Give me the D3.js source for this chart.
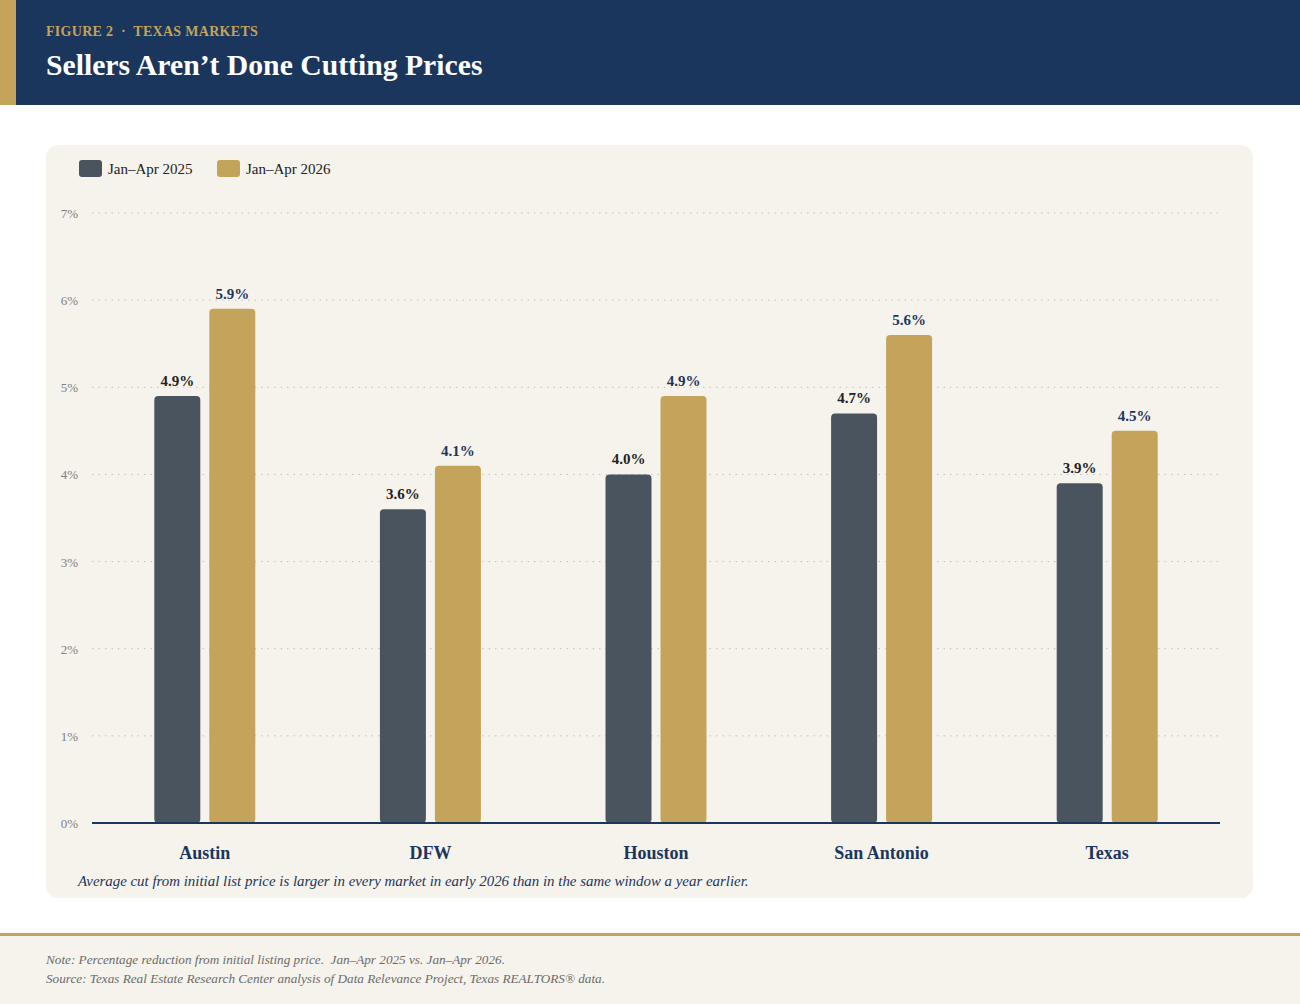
<!DOCTYPE html>
<html>
<head>
<meta charset="utf-8">
<script src="https://cdn.jsdelivr.net/npm/d3@7"></script>
<style>
  body { margin: 0; background: #ffffff; }
  svg { display: block; font-family: "Times New Roman", Times, "Liberation Serif", serif; }
</style>
</head>
<body>
<svg id="chart"></svg>
<script>
const width = 1300
const height = 1004

// data
const markets = ["Austin", "DFW", "Houston", "San Antonio", "Texas"]
const series = ["Jan\u2013Apr 2025", "Jan\u2013Apr 2026"]
const values2025 = [4.9, 3.6, 4.0, 4.7, 3.9]
const values2026 = [5.9, 4.1, 4.9, 5.6, 4.5]
const yTicks = [0, 1, 2, 3, 4, 5, 6, 7]

const navy = "#1b365d"
const gold = "#c4a35a"
const slate = "#4a545e"
const cream = "#f6f3ec"

const svg = d3.select("#chart")
  .attr("width", width)
  .attr("height", height)

// header band
svg.append("rect").attr("x", 0).attr("y", 0).attr("width", width).attr("height", 105).attr("fill", navy)
svg.append("rect").attr("x", 0).attr("y", 0).attr("width", 16).attr("height", 105).attr("fill", gold)
svg.append("text")
  .attr("x", 46).attr("y", 36)
  .attr("fill", gold)
  .attr("font-size", "14px")
  .attr("font-weight", "bold")
  .attr("letter-spacing", "0.3px")
  .attr("xml:space", "preserve")
  .text("FIGURE 2  \u00b7  TEXAS MARKETS")
svg.append("text")
  .attr("x", 46).attr("y", 75)
  .attr("fill", "#ffffff")
  .attr("font-size", "29.7px")
  .attr("font-weight", "bold")
  .text("Sellers Aren\u2019t Done Cutting Prices")

// panel
svg.append("rect")
  .attr("x", 46).attr("y", 145)
  .attr("width", 1207).attr("height", 753)
  .attr("rx", 12)
  .attr("fill", cream)

// legend
const legend = svg.append("g").attr("transform", "translate(79,160)")
const legendItems = legend.selectAll("g")
  .data(series)
  .join("g")
    .attr("transform", (d, i) => `translate(${i * 138},0)`)
legendItems.append("rect")
  .attr("width", 23).attr("height", 17).attr("rx", 3)
  .attr("fill", (d, i) => i === 0 ? slate : gold)
legendItems.append("text")
  .attr("x", 29).attr("y", 14)
  .attr("font-size", "15px")
  .attr("fill", "#222")
  .text(d => d)

// scales
const x0 = d3.scaleBand().domain(markets).range([92, 1220])
const y = d3.scaleLinear().domain([0, 7]).range([823, 213])
const barW = 46
const offsets = [-27.5, 27.5]

// grid
svg.append("g")
  .selectAll("line")
  .data(yTicks.filter(t => t > 0))
  .join("line")
    .attr("x1", 92).attr("x2", 1218)
    .attr("y1", d => y(d)).attr("y2", d => y(d))
    .attr("stroke", "#c4c1b9")
    .attr("stroke-width", 1)
    .attr("stroke-dasharray", "1.5,5")

svg.append("g")
  .selectAll("text")
  .data(yTicks)
  .join("text")
    .attr("x", 78)
    .attr("y", d => y(d) + 5)
    .attr("text-anchor", "end")
    .attr("font-size", "13px")
    .attr("fill", "#808080")
    .text(d => d + "%")

// bars
const rows = markets.map((m, i) => ({ market: m, vals: [values2025[i], values2026[i]] }))
const groups = svg.append("g")
  .selectAll("g")
  .data(rows)
  .join("g")
    .attr("transform", d => `translate(${x0(d.market) + x0.bandwidth() / 2},0)`)

groups.selectAll("rect")
  .data(d => d.vals)
  .join("rect")
    .attr("x", (d, i) => offsets[i] - barW / 2)
    .attr("y", d => y(d))
    .attr("width", barW)
    .attr("height", d => y(0) - y(d))
    .attr("rx", 4)
    .attr("fill", (d, i) => i === 0 ? slate : gold)

groups.selectAll("text.val")
  .data(d => d.vals)
  .join("text")
    .attr("class", "val")
    .attr("x", (d, i) => offsets[i])
    .attr("y", d => y(d) - 10)
    .attr("text-anchor", "middle")
    .attr("font-size", "15px")
    .attr("font-weight", "bold")
    .attr("fill", (d, i) => i === 0 ? "#222222" : navy)
    .text(d => d.toFixed(1) + "%")

// axis line
svg.append("line")
  .attr("x1", 92).attr("x2", 1220)
  .attr("y1", y(0)).attr("y2", y(0))
  .attr("stroke", navy)
  .attr("stroke-width", 2)

// category labels
svg.append("g")
  .selectAll("text")
  .data(markets)
  .join("text")
    .attr("x", d => x0(d) + x0.bandwidth() / 2)
    .attr("y", 859)
    .attr("text-anchor", "middle")
    .attr("font-size", "18px")
    .attr("font-weight", "bold")
    .attr("fill", navy)
    .text(d => d)

svg.append("text")
  .attr("x", 78).attr("y", 886)
  .attr("font-size", "14.9px")
  .attr("font-style", "italic")
  .attr("fill", navy)
  .text("Average cut from initial list price is larger in every market in early 2026 than in the same window a year earlier.")

// footer
svg.append("rect").attr("x", 0).attr("y", 936).attr("width", width).attr("height", height - 936).attr("fill", cream)
svg.append("rect").attr("x", 0).attr("y", 933).attr("width", width).attr("height", 3).attr("fill", gold)
svg.append("text")
  .attr("x", 46).attr("y", 964)
  .attr("font-size", "13.2px")
  .attr("font-style", "italic")
  .attr("fill", "#6b6b6b")
  .attr("xml:space", "preserve")
  .text("Note: Percentage reduction from initial listing price.  Jan\u2013Apr 2025 vs. Jan\u2013Apr 2026.")
svg.append("text")
  .attr("x", 46).attr("y", 983)
  .attr("font-size", "13.2px")
  .attr("font-style", "italic")
  .attr("fill", "#6b6b6b")
  .text("Source: Texas Real Estate Research Center analysis of Data Relevance Project, Texas REALTORS\u00ae data.")
</script>
</body>
</html>
